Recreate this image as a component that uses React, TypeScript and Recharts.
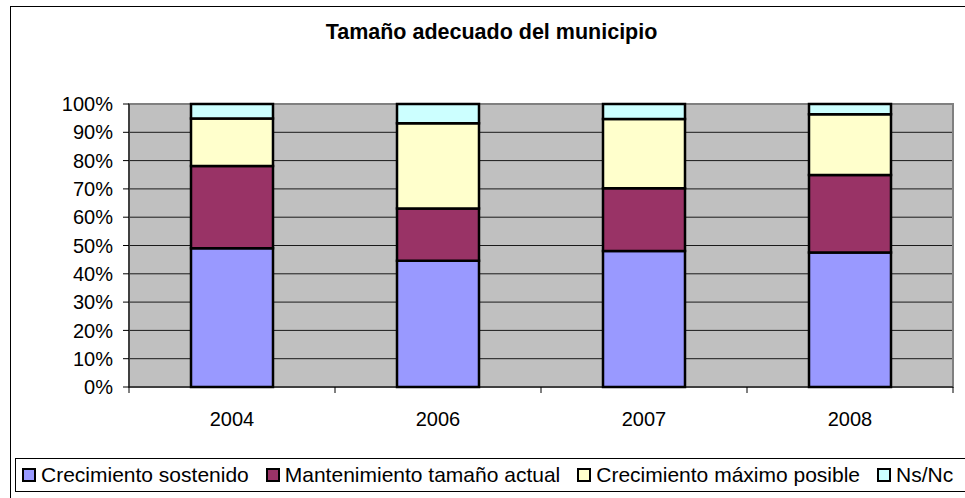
import { BarChart, Bar, XAxis, YAxis, CartesianGrid, ReferenceArea } from "recharts";

// años de la encuesta
const years = ["2004", "2006", "2007", "2008"];

// porcentajes (cada año suma 100)
const sostenido = [49.0, 44.6, 48.1, 47.5];
const mantenimiento = [29.1, 18.5, 22.1, 27.4];
const maximo = [16.8, 30.1, 24.5, 21.5];
const nsnc = [5.1, 6.8, 5.3, 3.6];

const yTicks = [0, 10, 20, 30, 40, 50, 60, 70, 80, 90, 100];

const series = [
  { key: "sostenido", name: "Crecimiento sostenido", color: "#9999ff" },
  { key: "mantenimiento", name: "Mantenimiento tamaño actual", color: "#993366" },
  { key: "maximo", name: "Crecimiento máximo posible", color: "#ffffcc" },
  { key: "nsnc", name: "Ns/Nc", color: "#ccffff" },
];

const data = years.map((year, i) => ({
  year,
  sostenido: sostenido[i],
  mantenimiento: mantenimiento[i],
  maximo: maximo[i],
  nsnc: nsnc[i],
}));

const FONT = "Arial, 'Liberation Sans', sans-serif";

// etiqueta del eje X + marcas entre categorías (estilo Excel)
const YearTick = (props: any) => {
  const { x, y, width, payload, index } = props;
  const band = width / years.length;
  const left = x - band / 2;
  return (
    <g>
      <line x1={left} y1={y} x2={left} y2={y + 6} stroke="#000" />
      {index === years.length - 1 && (
        <line x1={x + band / 2} y1={y} x2={x + band / 2} y2={y + 6} stroke="#000" />
      )}
      <text
        x={x}
        y={y + 39}
        textAnchor="middle"
        fill="#000"
        fontSize={20}
        fontFamily={FONT}>
        {payload.value}
      </text>
    </g>
  );
};

export default function App() {
  return (
    <div
      style={{
        position: "absolute",
        left: 0,
        top: 0,
        width: 965,
        height: 498,
        overflow: "hidden",
        background: "#fff",
        fontFamily: FONT,
      }}>
      {/* marco del gráfico (sale por la derecha y abajo) */}
      <div
        style={{
          position: "absolute",
          left: 10,
          top: 6,
          width: 1000,
          height: 600,
          border: "1px solid #000",
        }}
      />

      <div
        style={{
          position: "absolute",
          left: 0,
          top: 22,
          width: 983,
          textAlign: "center",
          fontSize: 21.5,
          lineHeight: "20px",
          fontWeight: "bold",
          color: "#000",
        }}>
        Tamaño adecuado del municipio
      </div>

      <div style={{ position: "absolute", left: 0, top: 0 }}>
        <BarChart
          width={965}
          height={498}
          data={data}
          margin={{ top: 104, right: 12, bottom: 81, left: 0 }}
          barCategoryGap={0}>
          <CartesianGrid
            vertical={false}
            fill="#c0c0c0"
            fillOpacity={1}
            stroke="#1a1a1a"
            strokeWidth={1}
          />
          <XAxis
            dataKey="year"
            height={30}
            interval={0}
            tickLine={false}
            tickSize={0}
            tickMargin={0}
            axisLine={{ stroke: "#000", strokeWidth: 1 }}
            tick={<YearTick />}
          />
          <YAxis
            width={129}
            domain={[0, 100]}
            ticks={yTicks}
            interval={0}
            tickSize={6}
            tickMargin={10}
            tickFormatter={(v: number) => `${v}%`}
            axisLine={{ stroke: "#000", strokeWidth: 1 }}
            tickLine={{ stroke: "#000", strokeWidth: 1 }}
            tick={{ fill: "#000", fontSize: 20, fontFamily: FONT }}
          />
          <ReferenceArea
            y1={0}
            y2={100}
            fill="none"
            stroke="#808080"
            strokeWidth={2}
            ifOverflow="visible"
          />
          {series.map((s) => (
            <Bar
              key={s.key}
              dataKey={s.key}
              name={s.name}
              stackId="a"
              fill={s.color}
              stroke="#000"
              strokeWidth={2.5}
              barSize={82}
              isAnimationActive={false}
            />
          ))}
        </BarChart>
      </div>

      {/* leyenda */}
      <div
        style={{
          position: "absolute",
          left: 15,
          top: 458,
          width: 1000,
          height: 32,
          border: "1px solid #000",
          display: "flex",
          alignItems: "center",
          paddingLeft: 6,
          fontSize: 21,
          color: "#000",
          whiteSpace: "nowrap",
        }}>
        {series.map((s) => (
          <div
            key={s.key}
            style={{ display: "flex", alignItems: "center", marginRight: 17 }}>
            <span
              style={{
                display: "inline-block",
                width: 10,
                height: 10,
                border: "2px solid #000",
                background: s.color,
                marginRight: 5,
              }}
            />
            <span>{s.name}</span>
          </div>
        ))}
      </div>
    </div>
  );
}
